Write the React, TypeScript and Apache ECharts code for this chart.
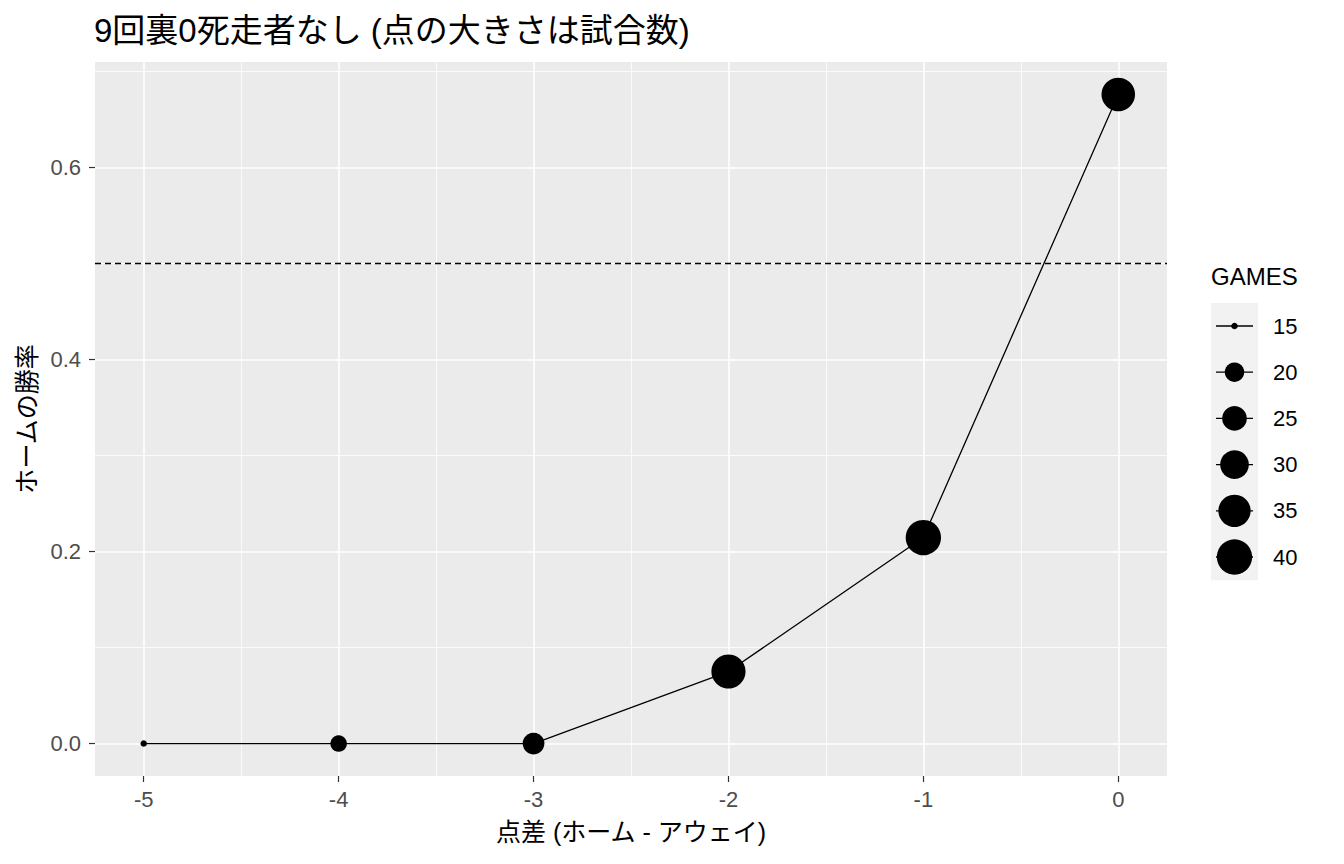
import React, { useEffect, useRef } from "react";
import * as echarts from "echarts";

// ---- data ----
const scoreDiff = [-5, -4, -3, -2, -1, 0];
const winRate = [0, 0, 0, 0.075, 0.2145, 0.676];
const games = [15, 18, 22, 38, 40, 37];
const legendBreaks = [15, 20, 25, 30, 35, 40];
const xBreaks = [-5, -4, -3, -2, -1, 0];
const xMinorBreaks = [-4.5, -3.5, -2.5, -1.5, -0.5];
const yBreaks = [0, 0.2, 0.4, 0.6];
const yMinorBreaks = [0.1, 0.3, 0.5, 0.7];
const refLine = 0.5;

const titleText = "9回裏0死走者なし (点の大きさは試合数)";
const xTitle = "点差 (ホーム - アウェイ)";
const yTitle = "ホームの勝率";
const legendTitle = "GAMES";

const FONT = "'Liberation Sans', Arial, 'Noto Sans CJK JP', sans-serif";

export default function App() {
  const ref = useRef<HTMLDivElement>(null);
  useEffect(() => {
    if (!ref.current) return;
    const chart = echarts.init(ref.current, null, { renderer: "svg" });

    const panel = { left: 95, top: 62, right: 1167, bottom: 776 };
    const pw = panel.right - panel.left;
    const ph = panel.bottom - panel.top;

    const xMinD = Math.min(...scoreDiff), xMaxD = Math.max(...scoreDiff);
    const yMinD = Math.min(...winRate), yMaxD = Math.max(...winRate);
    const xLo = xMinD - 0.05 * (xMaxD - xMinD), xHi = xMaxD + 0.05 * (xMaxD - xMinD);
    const yLo = yMinD - 0.05 * (yMaxD - yMinD), yHi = yMaxD + 0.05 * (yMaxD - yMinD);
    const pxX = pw / (xHi - xLo);
    const pxY = ph / (yHi - yLo);

    const gMin = 15, gMax = 40;
    const sizeOf = (g: number) =>
      6.5 + 28.8 * Math.sqrt(Math.max(0, (g - gMin) / (gMax - gMin)));

    const xb0 = xBreaks[0], xb1 = xBreaks[xBreaks.length - 1];
    const yb0 = yBreaks[0], yb1 = yBreaks[yBreaks.length - 1];

    const grid1Left = panel.left + (xb0 - xLo) * pxX;
    const grid1Width = (xb1 - xb0) * pxX;
    const grid2Top = panel.bottom - (yb1 - yLo) * pxY;
    const grid2Height = (yb1 - yb0) * pxY;

    const gridLines: any[] = [
      ...xMinorBreaks.map((v) => ({ xAxis: v, lineStyle: { color: "#ffffff", width: 0.8, type: "solid" } })),
      ...yMinorBreaks.map((v) => ({ yAxis: v, lineStyle: { color: "#ffffff", width: 0.8, type: "solid" } })),
      ...xBreaks.map((v) => ({ xAxis: v, lineStyle: { color: "#ffffff", width: 1.6, type: "solid" } })),
      ...yBreaks.map((v) => ({ yAxis: v, lineStyle: { color: "#ffffff", width: 1.6, type: "solid" } })),
    ];

    const legendStart = 326;
    const legendStep = 46.2;
    const legendChildren: any[] = [
      {
        type: "rect",
        shape: { x: 1211, y: legendStart - 23, width: 47, height: legendStep * legendBreaks.length },
        style: { fill: "#F2F2F2" },
      },
    ];
    legendBreaks.forEach((g, i) => {
      const cy = legendStart + i * legendStep;
      legendChildren.push({
        type: "line",
        shape: { x1: 1216, y1: cy, x2: 1253, y2: cy },
        style: { stroke: "#000", lineWidth: 1.3 },
      });
      legendChildren.push({
        type: "circle",
        shape: { cx: 1234.5, cy, r: sizeOf(g) / 2 },
        style: { fill: "#000" },
      });
      legendChildren.push({
        type: "text",
        x: 1273,
        y: cy,
        style: { text: String(g), fontSize: 22, fontFamily: FONT, fill: "#000", verticalAlign: "middle", align: "left" },
      });
    });

    const option: any = {
      animation: false,
      backgroundColor: "#ffffff",
      grid: [
        {
          left: panel.left, top: panel.top, width: pw, height: ph,
          show: true, backgroundColor: "#EBEBEB", borderWidth: 0, containLabel: false,
        },
        { left: grid1Left, top: panel.top, width: grid1Width, height: ph, show: false, containLabel: false },
        { left: panel.left, top: grid2Top, width: pw, height: grid2Height, show: false, containLabel: false },
      ],
      xAxis: [
        {
          gridIndex: 0, type: "value", min: xLo, max: xHi, show: false,
          splitLine: { show: false },
        },
        {
          gridIndex: 1, type: "value", min: xb0, max: xb1, interval: 1, position: "bottom",
          axisLine: { show: false },
          axisTick: { show: true, length: 6, lineStyle: { color: "#333333", width: 1.2 } },
          axisLabel: { show: true, margin: 12, fontSize: 22, color: "#4D4D4D", fontFamily: FONT },
          splitLine: { show: false },
        },
        { gridIndex: 2, type: "value", min: 0, max: 1, show: false, splitLine: { show: false } },
      ],
      yAxis: [
        {
          gridIndex: 0, type: "value", min: yLo, max: yHi, show: false,
          splitLine: { show: false },
        },
        { gridIndex: 1, type: "value", min: 0, max: 1, show: false, splitLine: { show: false } },
        {
          gridIndex: 2, type: "value", min: yb0, max: yb1, interval: 0.2, position: "left",
          axisLine: { show: false },
          axisTick: { show: true, length: 6, lineStyle: { color: "#333333", width: 1.2 } },
          axisLabel: {
            show: true, margin: 14, fontSize: 22, color: "#4D4D4D", fontFamily: FONT,
            formatter: (v: number) => v.toFixed(1),
          },
          splitLine: { show: false },
        },
      ],
      series: [
        {
          type: "line",
          xAxisIndex: 0,
          yAxisIndex: 0,
          z: 1,
          data: [[xLo, yLo]],
          showSymbol: false,
          lineStyle: { width: 0 },
          silent: true,
          markLine: {
            silent: true,
            symbol: ["none", "none"],
            label: { show: false },
            emphasis: { disabled: true },
            data: gridLines,
          },
        },
        {
          type: "line",
          xAxisIndex: 0,
          yAxisIndex: 0,
          z: 2,
          data: [[xLo, yLo]],
          showSymbol: false,
          lineStyle: { width: 0 },
          silent: true,
          markLine: {
            silent: true,
            symbol: ["none", "none"],
            label: { show: false },
            emphasis: { disabled: true },
            data: [{ yAxis: refLine, lineStyle: { color: "#000000", width: 1.4, type: [6, 4] } }],
          },
        },
        {
          type: "line",
          xAxisIndex: 0,
          yAxisIndex: 0,
          z: 5,
          data: scoreDiff.map((x, i) => [x, winRate[i], games[i]]),
          symbol: "circle",
          showSymbol: true,
          symbolSize: (v: number[]) => sizeOf(v[2]),
          itemStyle: { color: "#000000" },
          lineStyle: { color: "#000000", width: 1.3 },
          emphasis: { disabled: true },
        },
      ],
      graphic: [
        {
          type: "text",
          x: 94,
          y: 30,
          style: { text: titleText, fontSize: 33, fontFamily: FONT, fill: "#000", verticalAlign: "middle", align: "left" },
        },
        {
          type: "text",
          x: (panel.left + panel.right) / 2,
          y: 832,
          style: { text: xTitle, fontSize: 25, fontFamily: FONT, fill: "#000", verticalAlign: "middle", align: "center" },
        },
        {
          type: "text",
          x: 27,
          y: (panel.top + panel.bottom) / 2,
          rotation: Math.PI / 2,
          style: { text: yTitle, fontSize: 25, fontFamily: FONT, fill: "#000", verticalAlign: "middle", align: "center" },
        },
        {
          type: "text",
          x: 1211,
          y: 276,
          style: { text: legendTitle, fontSize: 24, fontFamily: FONT, fill: "#000", verticalAlign: "middle", align: "left" },
        },
        { type: "group", children: legendChildren },
      ],
    };

    chart.setOption(option);
    return () => chart.dispose();
  }, []);

  return (
    <div
      ref={ref}
      style={{ position: "fixed", left: 0, top: 0, width: 1344, height: 864, background: "#fff" }}
    />
  );
}
